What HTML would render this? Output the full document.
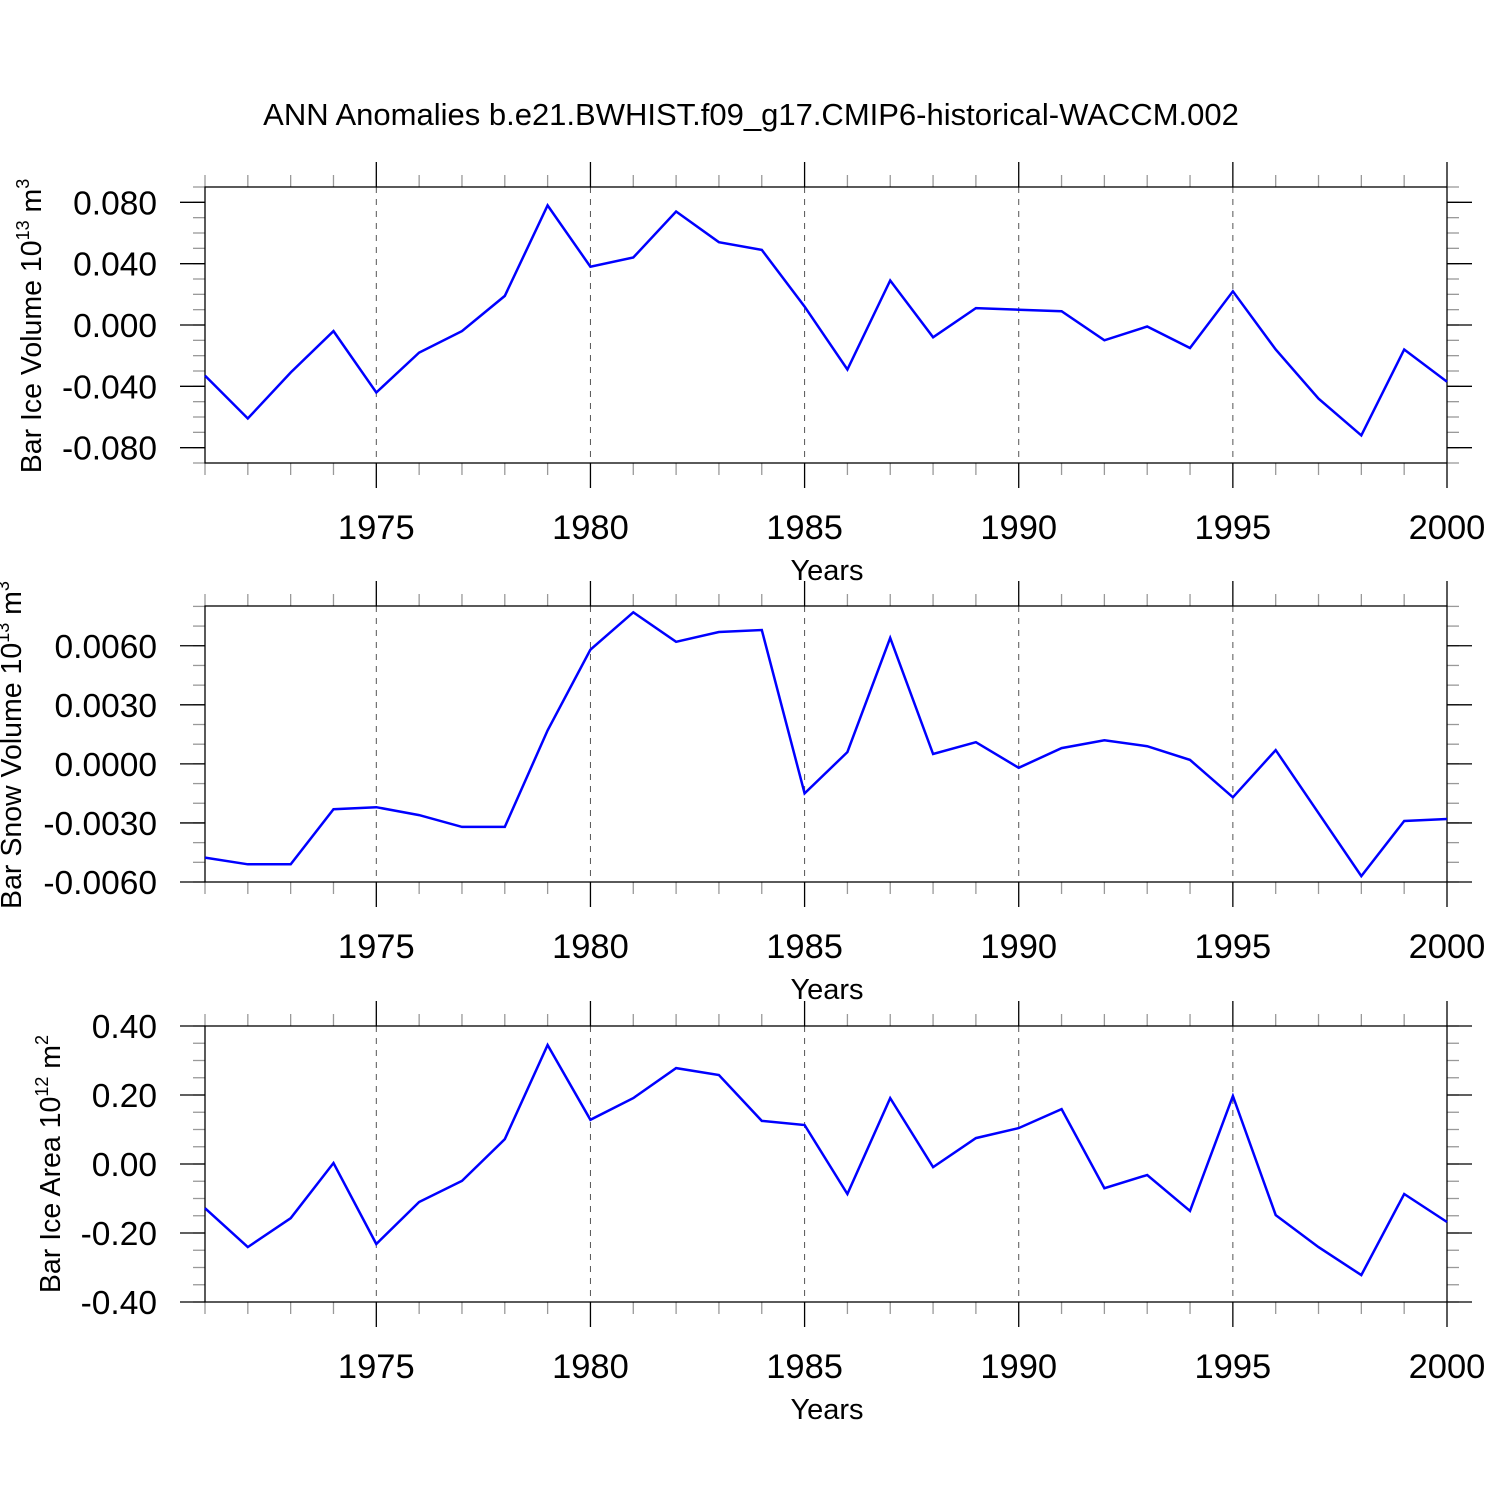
<!DOCTYPE html>
<html><head><meta charset="utf-8"><style>
html,body{margin:0;padding:0;background:#fff;}
svg{display:block;font-family:"Liberation Sans",sans-serif;}
</style></head><body>
<svg id="chart" width="1500" height="1500" viewBox="0 0 1500 1500">
<text x="751" y="125" text-anchor="middle" font-size="31">ANN Anomalies b.e21.BWHIST.f09_g17.CMIP6-historical-WACCM.002</text>
</svg>
<script>
const years = [1971,1972,1973,1974,1975,1976,1977,1978,1979,1980,1981,1982,1983,1984,1985,1986,1987,1988,1989,1990,1991,1992,1993,1994,1995,1996,1997,1998,1999,2000];
const iceVolume = [-0.033,-0.061,-0.031,-0.004,-0.044,-0.018,-0.004,0.019,0.078,0.038,0.044,0.074,0.054,0.049,0.012,-0.029,0.029,-0.008,0.011,0.010,0.009,-0.010,-0.001,-0.015,0.022,-0.016,-0.048,-0.072,-0.016,-0.037];
const snowVolume = [-0.00476,-0.0051,-0.0051,-0.0023,-0.0022,-0.0026,-0.0032,-0.0032,0.0017,0.0058,0.0077,0.0062,0.0067,0.0068,-0.0015,0.0006,0.0064,0.0005,0.0011,-0.0002,0.0008,0.0012,0.0009,0.0002,-0.0017,0.0007,-0.0025,-0.0057,-0.0029,-0.0028];
const iceArea = [-0.128,-0.241,-0.157,0.003,-0.232,-0.110,-0.049,0.072,0.345,0.128,0.191,0.278,0.258,0.125,0.113,-0.087,0.191,-0.009,0.075,0.104,0.159,-0.070,-0.032,-0.136,0.197,-0.148,-0.241,-0.322,-0.087,-0.168];
const xTickLabels = [1975,1980,1985,1990,1995,2000];
const iceVolumeTicks = [0.08,0.04,0,-0.04,-0.08];
const iceVolumeTickLabels = ["0.080","0.040","0.000","-0.040","-0.080"];
const snowVolumeTicks = [0.006,0.003,0,-0.003,-0.006];
const snowVolumeTickLabels = ["0.0060","0.0030","0.0000","-0.0030","-0.0060"];
const iceAreaTicks = [0.4,0.2,0,-0.2,-0.4];
const iceAreaTickLabels = ["0.40","0.20","0.00","-0.20","-0.40"];

const NS="http://www.w3.org/2000/svg";
const svg=document.getElementById('chart');
function mk(tag,attrs,parent){const e=document.createElementNS(NS,tag);for(const k in attrs)e.setAttribute(k,attrs[k]);(parent||svg).appendChild(e);return e;}
const X0=205,X1=1447;
function xs(y){return X0+(y-1971)*(X1-X0)/29;}

function panel(top,ymin,ymax,minorStep,ticks,labels,data,title,exp,unitExp,name){
  const bot=top+276;
  const ys=v=>bot-(v-ymin)*(bot-top)/(ymax-ymin);
  const g=mk('g',{});
  
  
  xTickLabels.forEach(yr=>{
    const l=mk('line',{x1:xs(yr),x2:xs(yr),y1:top,y2:bot,stroke:'#555','stroke-width':1,'stroke-dasharray':'6,6'},g);
    
    
  });
  for(let yr=1971;yr<=2000;yr++){
    const maj=xTickLabels.includes(yr);
    const len=maj?25:12, col=maj?'#000':'#999';
    mk('line',{x1:xs(yr),x2:xs(yr),y1:top-len,y2:top,stroke:col,'stroke-width':1.3},g);
    mk('line',{x1:xs(yr),x2:xs(yr),y1:bot,y2:bot+len,stroke:col,'stroke-width':1.3},g);
  }
  const n=Math.round((ymax-ymin)/minorStep);
  for(let i=0;i<=n;i++){
    const v=ymin+i*minorStep;const y=ys(v);
    if(y<top-0.5||y>bot+0.5)continue;
    mk('line',{x1:X0-12,x2:X0,y1:y,y2:y,stroke:'#999','stroke-width':1.3},g);
    mk('line',{x1:X1,x2:X1+12,y1:y,y2:y,stroke:'#999','stroke-width':1.3},g);
  }
  ticks.forEach((v,i)=>{
    const y=ys(v);
    mk('line',{x1:X0-25,x2:X0,y1:y,y2:y,stroke:'#000','stroke-width':1.3},g);
    mk('line',{x1:X1,x2:X1+25,y1:y,y2:y,stroke:'#000','stroke-width':1.3},g);
    const t=mk('text',{x:X0-48,y:y+12,'text-anchor':'end','font-size':33.5},g);
    t.textContent=labels[i];
    
    
  });
  mk('rect',{x:X0,y:top,width:X1-X0,height:bot-top,fill:'none',stroke:'#000','stroke-width':1.3},g);
  xTickLabels.forEach(yr=>{
    const t=mk('text',{x:xs(yr),y:bot+76,'text-anchor':'middle','font-size':34.5},g);
    t.textContent=yr;
    
    
  });
  const xt=mk('text',{x:827,y:bot+117,'text-anchor':'middle','font-size':29},g);
  xt.textContent='Years';
  
  
  const pts=data.map((v,i)=>xs(years[i]).toFixed(1)+','+ys(v).toFixed(1)).join(' ');
  const pl=mk('polyline',{points:pts,fill:'none',stroke:'#0000ff','stroke-width':2.5,'stroke-linejoin':'miter'},g);
  
  
  const yt=mk('text',{transform:`translate(${exp.x},${exp.y}) rotate(-90)`,'text-anchor':'middle','font-size':28.5},g);
  
  
  yt.innerHTML=title+' 10<tspan dy="-12" font-size="18">'+unitExp[0]+'</tspan><tspan dy="12"> m</tspan><tspan dy="-12" font-size="18">'+unitExp[1]+'</tspan>';
}
panel(187,-0.09,0.09,0.01,iceVolumeTicks,iceVolumeTickLabels,iceVolume,'Bar Ice Volume',{x:41,y:326},['13','3'],'ice-volume');
panel(606,-0.006,0.00802,0.001,snowVolumeTicks,snowVolumeTickLabels,snowVolume,'Bar Snow Volume',{x:21,y:745},['13','3'],'snow-volume');
panel(1026,-0.4,0.4,0.05,iceAreaTicks,iceAreaTickLabels,iceArea,'Bar Ice Area',{x:60,y:1164},['12','2'],'ice-area');
</script>
</body></html>
